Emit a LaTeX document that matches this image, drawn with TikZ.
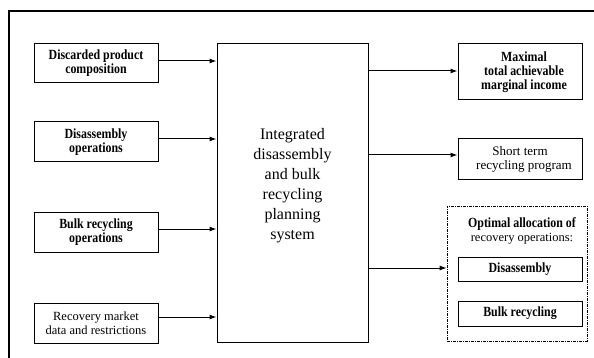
\documentclass[tikz,border=0pt]{standalone}
\usepackage{fontspec}
\setmainfont{Liberation Serif}
\newfontfamily\bcond[FakeStretch=0.85]{Liberation Serif}
\usetikzlibrary{arrows.meta}
\tikzset{
  box/.style={draw, line width=1pt, align=center, inner sep=0pt},
  bt/.style={font=\bcond\bfseries\fontsize{14}{14}\selectfont},
  rt/.style={font=\fontsize{13}{14}\selectfont},
  arr/.style={line width=1pt, -{Latex[length=7pt,width=5pt]}},
}
\begin{document}
\begin{tikzpicture}[x=1pt,y=-1pt]
\useasboundingbox (0,0) rectangle (594,358);
\draw[line width=1.3pt] (9,358) -- (9,11) -- (594,11);
% left inputs
\node[box,bt,minimum width=124pt,minimum height=39pt] (l1) at (96,63.5) {Discarded product\\composition};
\node[box,bt,minimum width=124pt,minimum height=40pt] (l2) at (96,142) {Disassembly\\operations};
\node[box,bt,minimum width=124pt,minimum height=40pt] (l3) at (96,232) {Bulk recycling\\operations};
\node[box,rt,font=\fontsize{12.5}{14}\selectfont,minimum width=124pt,minimum height=40pt] (l4) at (96,323) {Recovery market\\data and restrictions};
% central
\node[box,minimum width=151pt,minimum height=298pt] (c) at (292.5,193) {};
\node[align=center,font=\fontsize{16}{20}\selectfont] (ct) at (292.5,186) {Integrated\\disassembly\\and bulk\\recycling\\planning\\system};
% right outputs
\node[box,bt,minimum width=124pt,minimum height=56pt] (rA) at (520,72) {\hspace*{8pt}Maximal\\\hspace*{8pt}total achievable\\\hspace*{8pt}marginal income};
\node[box,rt,minimum width=124pt,minimum height=41pt] (rB) at (520,159.5) {Short term\\\hspace*{8pt}recycling program};
\node[draw, line width=0.7pt, dash pattern=on 3pt off 1pt on 1pt off 1pt, minimum width=140pt, minimum height=135pt, inner sep=0pt] (d) at (517,273.5) {};
\node[align=center, inner sep=0pt] (dt) at (522,231) {{\bcond\bfseries\fontsize{14}{18}\selectfont Optimal allocation of}\\[2pt]{\fontsize{12.5}{18}\selectfont recovery operations:}};
\node[box,bt,minimum width=124pt,minimum height=24pt] (dA) at (520,269) {Disassembly};
\node[box,bt,minimum width=124pt,minimum height=25pt] (dB) at (520,313.5) {Bulk recycling};
% connectors
\draw[arr] ([yshift=2.5pt]l1.east) -- ([yshift=2.5pt]l1.east -| c.west);
\draw[arr] ([yshift=3pt]l2.east) -- ([yshift=3pt]l2.east -| c.west);
\draw[arr] ([yshift=3pt]l3.east) -- ([yshift=3pt]l3.east -| c.west);
\draw[arr] ([yshift=6pt]l4.east) -- ([yshift=6pt]l4.east -| c.west);
\draw[arr] ([yshift=1pt]rA.west -| c.east) -- ([yshift=1pt]rA.west);
\draw[arr] ([yshift=4.5pt]rB.west -| c.east) -- ([yshift=4.5pt]rB.west);
\draw[arr] ([yshift=5.5pt]d.west -| c.east) -- ([yshift=5.5pt]d.west);
\end{tikzpicture}
\end{document}
